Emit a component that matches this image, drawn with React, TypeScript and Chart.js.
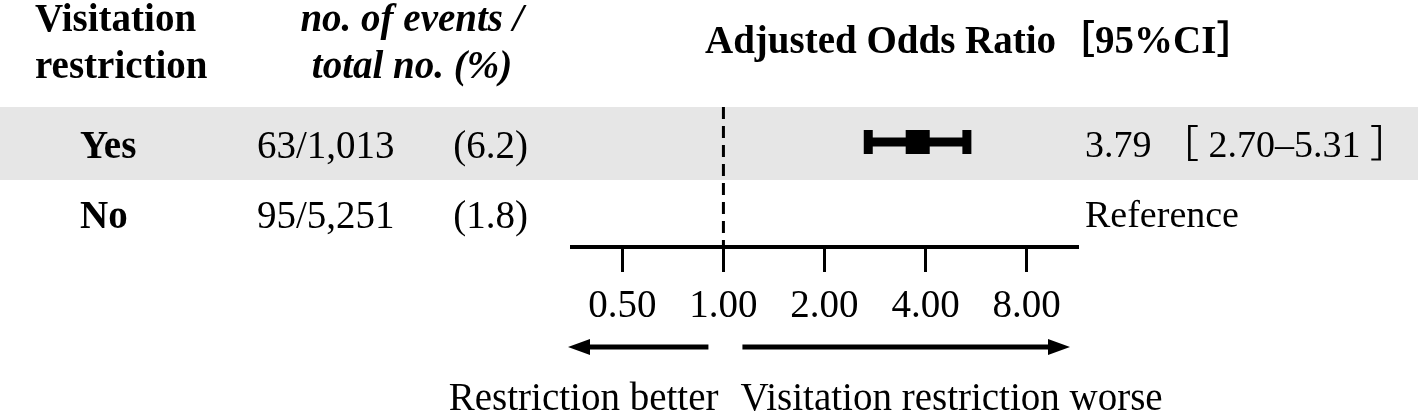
import React, { useEffect, useRef } from 'react';
import { Chart, registerables } from 'chart.js';

Chart.register(...registerables);

// ---- data ----
const categories = ['Yes', 'No'];
const eventCounts = ['63/1,013', '95/5,251'];
const eventPercents = ['(6.2)', '(1.8)'];
const oddsRatios: (number | null)[] = [3.79, null];
const ciLower: (number | null)[] = [2.7, null];
const ciUpper: (number | null)[] = [5.31, null];
const resultLabels = ['3.79 ［ 2.70–5.31 ］', 'Reference'];
const xTickValues = [0.5, 1, 2, 4, 8];
const referenceValue = 1;
const headerGroup = ['Visitation', 'restriction'];
const headerEvents = ['no. of events /', 'total no. (%)'];
const headerOR = 'Adjusted Odds Ratio［95%CI］';
const labelBetter = 'Restriction better';
const labelWorse = 'Visitation restriction worse';

const W = 1418;
const H = 415;
const SERIF = "'Liberation Serif', 'Times New Roman', 'Noto Sans CJK JP', serif";
const FS = 39;

function arrow(ctx: CanvasRenderingContext2D, x0: number, x1: number, y: number) {
  const dir = Math.sign(x1 - x0);
  const headLen = 22;
  const headHalf = 8;
  ctx.beginPath();
  ctx.lineWidth = 5;
  ctx.lineCap = 'butt';
  ctx.moveTo(x0, y);
  ctx.lineTo(x1 - dir * headLen, y);
  ctx.stroke();
  ctx.beginPath();
  ctx.moveTo(x1, y);
  ctx.lineTo(x1 - dir * headLen, y - headHalf);
  ctx.lineTo(x1 - dir * headLen, y + headHalf);
  ctx.closePath();
  ctx.fill();
}

const forestPlugin = {
  id: 'forestDecor',
  beforeDraw(chart: any) {
    const { ctx } = chart;
    const yS = chart.scales.y;
    const c0 = yS.getPixelForValue(0);
    const half = (yS.getPixelForValue(1) - c0) / 2;
    ctx.save();
    ctx.fillStyle = '#ffffff';
    ctx.fillRect(0, 0, chart.width, chart.height);
    ctx.fillStyle = '#e6e6e6';
    ctx.fillRect(0, c0 - half, chart.width, half * 2 + 3);
    ctx.restore();
  },
  beforeDatasetsDraw(chart: any) {
    const { ctx, chartArea } = chart;
    const xr = chart.scales.x.getPixelForValue(referenceValue);
    ctx.save();
    ctx.strokeStyle = '#000';
    ctx.lineWidth = 3;
    ctx.setLineDash([12, 7]);
    ctx.beginPath();
    ctx.moveTo(xr, chartArea.top);
    ctx.lineTo(xr, chartArea.bottom);
    ctx.stroke();
    ctx.restore();
  },
  afterDraw(chart: any) {
    const { ctx, chartArea } = chart;
    const xS = chart.scales.x;
    const yS = chart.scales.y;
    const xr = xS.getPixelForValue(referenceValue);
    ctx.save();
    ctx.fillStyle = '#000';
    ctx.strokeStyle = '#000';
    ctx.textBaseline = 'alphabetic';

    // headers
    ctx.font = `bold ${FS}px ${SERIF}`;
    ctx.textAlign = 'left';
    ctx.fillText(headerGroup[0], 35, 31);
    ctx.fillText(headerGroup[1], 35, 78);
    ctx.font = `italic bold ${FS}px ${SERIF}`;
    ctx.textAlign = 'center';
    ctx.fillText(headerEvents[0], 412, 31);
    ctx.fillText(headerEvents[1], 412, 78);
    ctx.font = `bold ${FS}px ${SERIF}`;
    ctx.textAlign = 'left';
    ctx.fillText(headerOR, 705, 53);

    // rows
    categories.forEach((cat, i) => {
      const yc = yS.getPixelForValue(i);
      ctx.font = `bold ${FS}px ${SERIF}`;
      ctx.textAlign = 'left';
      ctx.fillText(cat, 80, yc + 16);
      ctx.font = `${FS}px ${SERIF}`;
      ctx.fillText(eventCounts[i], 257, yc + 16);
      ctx.textAlign = 'right';
      ctx.fillText(eventPercents[i], 528, yc + 16);
      ctx.textAlign = 'left';
      ctx.font = `${FS - 1}px ${SERIF}`;
      ctx.fillText(resultLabels[i], 1085, yc + 15);
    });

    // arrows
    const ay = 347;
    arrow(ctx, xr - 15, chartArea.left - 4, ay);
    arrow(ctx, xr + 19, chartArea.right - 7, ay);

    ctx.font = `${FS}px ${SERIF}`;
    ctx.textAlign = 'right';
    ctx.fillText(labelBetter, xr - 5, 410);
    ctx.textAlign = 'left';
    ctx.fillText(labelWorse, xr + 17, 410);
    ctx.restore();
  },
};

export default function App() {
  const ref = useRef<HTMLCanvasElement | null>(null);
  useEffect(() => {
    if (!ref.current) return;
    const pointData = categories
      .map((c, i) => (oddsRatios[i] != null ? { x: oddsRatios[i] as number, y: c } : null))
      .filter(Boolean);
    const ciData: any[] = [];
    categories.forEach((c, i) => {
      if (ciLower[i] != null && ciUpper[i] != null) {
        ciData.push({ x: ciLower[i], y: c });
        ciData.push({ x: ciUpper[i], y: c });
      }
    });
    const chart = new Chart(ref.current, {
      type: 'scatter',
      data: {
        labels: categories,
        datasets: [
          {
            data: pointData as any,
            pointStyle: 'rect',
            pointRadius: 17,
            pointBorderWidth: 0,
            backgroundColor: '#000',
            borderColor: '#000',
          },
          {
            data: ciData,
            showLine: true,
            borderColor: '#000',
            borderWidth: 9,
            borderCapStyle: 'butt',
            pointStyle: 'line',
            pointRotation: 90,
            pointRadius: 12,
            pointBorderWidth: 9,
            pointBorderColor: '#000',
            pointBackgroundColor: '#000',
          } as any,
        ],
      },
      options: {
        animation: false,
        responsive: false,
        devicePixelRatio: 1,
        layout: { padding: { left: 572, right: W - 1077, top: 107, bottom: 0 } },
        plugins: { legend: { display: false }, tooltip: { enabled: false } },
        scales: {
          x: {
            type: 'logarithmic',
            min: 0.354,
            max: 11.3,
            afterBuildTicks: (scale: any) => {
              scale.ticks = xTickValues.map((v) => ({ value: v }));
            },
            afterFit: (scale: any) => {
              scale.height = H - 247;
            },
            ticks: {
              color: '#000',
              font: { family: SERIF, size: FS },
              padding: 11,
              maxRotation: 0,
              autoSkip: false,
              callback: (v: any) => Number(v).toFixed(2),
            },
            grid: {
              drawOnChartArea: false,
              drawTicks: true,
              tickLength: 25,
              color: '#000',
              lineWidth: 3,
            },
            border: { display: true, color: '#000', width: 4 },
          },
          y: {
            type: 'category',
            labels: categories,
            offset: true,
            display: false,
          },
        },
      },
      plugins: [forestPlugin],
    } as any);
    return () => chart.destroy();
  }, []);
  return (
    <div style={{ position: 'fixed', left: 0, top: 0, width: W, height: H, background: '#fff' }}>
      <canvas ref={ref} width={W} height={H} style={{ display: 'block' }} />
    </div>
  );
}
